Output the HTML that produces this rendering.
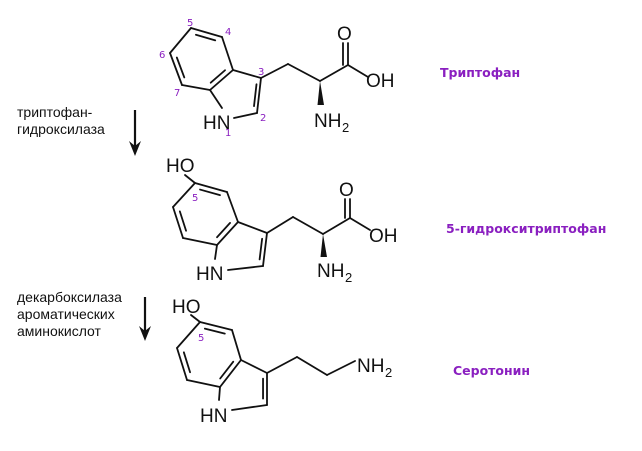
<!DOCTYPE html>
<html><head><meta charset="utf-8"><style>
html,body{margin:0;padding:0;background:#fff;}
svg{display:block;}
.t{font-family:"Liberation Sans",sans-serif;font-size:14px;fill:#111;}
.a{font-family:"Liberation Sans",sans-serif;font-size:19px;fill:#111;}
.s{font-family:"Liberation Sans",sans-serif;font-size:13px;fill:#111;}
.n{font-family:"DejaVu Sans",sans-serif;font-size:10px;fill:#8a1fc0;}
.p{font-family:"DejaVu Sans",sans-serif;font-size:12.5px;font-weight:bold;fill:#8a1fc0;}
</style></head><body>
<svg id="g" width="642" height="451" viewBox="0 0 642 451" xmlns="http://www.w3.org/2000/svg">
<g id="b" stroke="#111" stroke-width="1.8" fill="none" stroke-linecap="round"></g>
<!-- Arrows -->
<line x1="135" y1="110" x2="135" y2="150" stroke="#111" stroke-width="2.2"/>
<polygon points="129,141 135,156 141,141 135,146" fill="#111"/>
<line x1="145" y1="297" x2="145" y2="335" stroke="#111" stroke-width="2.2"/>
<polygon points="139,326 145,341 151,326 145,331" fill="#111"/>
<text class="t" x="17" y="117">триптофан-</text>
<text class="t" x="17" y="134">гидроксилаза</text>
<text class="t" x="17" y="302">декарбоксилаза</text>
<text class="t" x="17" y="319">ароматических</text>
<text class="t" x="17" y="336">аминокислот</text>
<text class="p" x="440" y="77">Триптофан</text>
<text class="p" x="446" y="233">5-гидрокситриптофан</text>
<text class="p" x="453" y="375">Серотонин</text>
<!-- Tryptophan atoms -->
<text class="a" x="203" y="129">HN</text>
<text class="a" x="337" y="40">O</text>
<text class="a" x="366" y="87">OH</text>
<text class="a" x="314" y="127">NH</text><text class="s" x="342" y="132">2</text>
<text class="n" x="187" y="26">5</text>
<text class="n" x="225" y="35">4</text>
<text class="n" x="159" y="58">6</text>
<text class="n" x="174" y="96">7</text>
<text class="n" x="258" y="75">3</text>
<text class="n" x="260" y="121">2</text>
<text class="n" x="225" y="136">1</text>
<!-- 5-HTP atoms -->
<text class="a" x="166" y="172">HO</text>
<text class="n" x="192" y="201">5</text>
<text class="a" x="196" y="280">HN</text>
<text class="a" x="339" y="196">O</text>
<text class="a" x="369" y="242">OH</text>
<text class="a" x="317" y="277">NH</text><text class="s" x="345" y="282">2</text>
<!-- Serotonin atoms -->
<text class="a" x="172" y="313">HO</text>
<text class="n" x="198" y="341">5</text>
<text class="a" x="200" y="422">HN</text>
<text class="a" x="357" y="372">NH</text><text class="s" x="385" y="377">2</text>
<polygon points="320,81 317.5,105 324,105" fill="#111"/>
<polygon points="323,234 320.5,257 327,257" fill="#111"/>
</svg>
<script>
var g=document.getElementById('b');
function L(a,b){var l=document.createElementNS('http://www.w3.org/2000/svg','line');l.setAttribute('x1',a[0]);l.setAttribute('y1',a[1]);l.setAttribute('x2',b[0]);l.setAttribute('y2',b[1]);g.appendChild(l);}
function D(a,b,c){var f=0.18,k=0.2;var p=[a[0]+(c[0]-a[0])*f,a[1]+(c[1]-a[1])*f],q=[b[0]+(c[0]-b[0])*f,b[1]+(c[1]-b[1])*f];
var d=[q[0]-p[0],q[1]-p[1]];L([p[0]+d[0]*0.12,p[1]+d[1]*0.12],[q[0]-d[0]*0.12,q[1]-d[1]*0.12]);}
function mol(m){var C5=m.C5,C4=m.C4,C3a=m.C3a,C7a=m.C7a,C7=m.C7,C6=m.C6,C3=m.C3,C2=m.C2,N=m.N;
var bc=[(C5[0]+C4[0]+C3a[0]+C7a[0]+C7[0]+C6[0])/6,(C5[1]+C4[1]+C3a[1]+C7a[1]+C7[1]+C6[1])/6];
var pc=[(C3a[0]+C3[0]+C2[0]+N[0]+C7a[0])/5,(C3a[1]+C3[1]+C2[1]+N[1]+C7a[1])/5];
L(C5,C4);L(C4,C3a);L(C3a,C7a);L(C7a,C7);L(C7,C6);L(C6,C5);
D(C5,C4,bc);D(C3a,C7a,bc);D(C7,C6,bc);
L(C3a,C3);L(C3,C2);D(C3,C2,pc);L(C2,m.Nr);L(C7a,m.Nt);
m.ex.forEach(function(e){L(e[0],e[1]);});}
// Tryptophan
mol({C5:[191,28],C4:[222,37],C3a:[233,70],C7a:[210,90],C7:[182,85],C6:[170,53],C3:[261,78],C2:[257,113],N:[230,118],Nr:[234,118],Nt:[222,108],
ex:[[[261,78],[288,64]],[[288,64],[320,81]],[[320,81],[348,65]],[[348,65],[348,43]],[[343,65],[343,43]],[[348,65],[368,77]]]});
// 5-HTP
mol({C5:[195,183],C4:[227,192],C3a:[238,222],C7a:[217,245],C7:[183,238],C6:[173,207],C3:[267,233],C2:[263,266],N:[225,270],Nr:[228,270],Nt:[215,259],
ex:[[[195,183],[185,175]],[[267,233],[293,217]],[[293,217],[323,234]],[[323,234],[350,218]],[[350,218],[350,199]],[[345,218],[345,199]],[[350,218],[370,230]]]});
// Serotonin
mol({C5:[200,322],C4:[232,330],C3a:[241,360],C7a:[220,387],C7:[187,380],C6:[177,348],C3:[267,373],C2:[267,405],N:[230,410],Nr:[232,410],Nt:[219,400],
ex:[[[200,322],[191,315]],[[267,373],[297,357]],[[297,357],[327,375]],[[327,375],[355,361]]]});
</script>
</body></html>
